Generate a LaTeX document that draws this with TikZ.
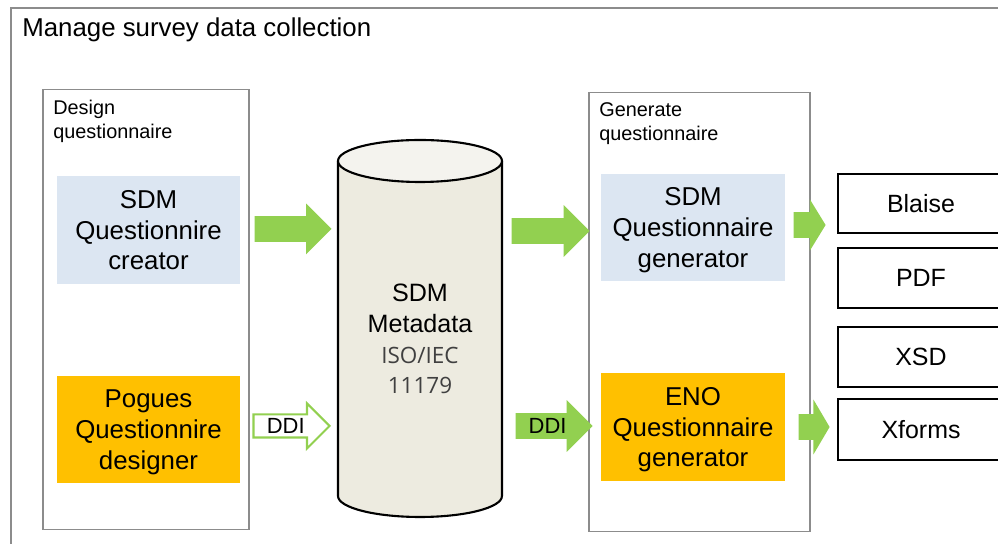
\documentclass[tikz,border=0pt]{standalone}
\usepackage{fontspec}
\setmainfont{Liberation Sans}
\newfontfamily\isofont{Open Sans}
\usepackage{tikz}
\usetikzlibrary{shapes.arrows}
\definecolor{sdmblue}{HTML}{DCE6F2}
\definecolor{enoorange}{HTML}{FFC000}
\definecolor{arrgreen}{HTML}{92D050}
\definecolor{cylfill}{HTML}{EDEBE0}
\definecolor{cyltop}{HTML}{F4F3EE}
\definecolor{framegray}{HTML}{8C8C8C}
\tikzset{
	FR/.style={draw=framegray,line width=0.6pt}
}
\tikzset{
	BX/.style={minimum width=#1,inner sep=0,align=center,text depth=0pt,font=\fontsize{14.7}{17.6}\selectfont}
}
\tikzset{
	OUT/.style={draw,line width=1.1pt,minimum width=3.32cm,minimum height=#1,inner sep=0,font=\fontsize{14.2}{17}\selectfont}
}
\tikzset{
	GA/.style={single arrow,anchor=tip,inner sep=0,fill=arrgreen,text height=0.41cm,text depth=0.09cm,font=\fontsize{12.5}{14}\selectfont}
}

\begin{document}
\begin{tikzpicture}[x=0.02cm,y=0.02cm]
		\useasboundingbox (0,0) rectangle (998,544);
		\clip (0,0) rectangle (998,544);
		\fill[white] (0,0) rectangle (998,544);
		%outer frame
		\draw[FR] (11,-5) -- (11,536) -- (1005,536);
		\node[anchor=base west,inner sep=0,font=\fontsize{14.7}{17}\selectfont] (title) at (22,507) {Manage survey data collection};
		%design
		\node[FR,minimum width=4.12cm,minimum height=8.82cm] (design) at (146,234.5) {};
		\node[anchor=north west,inner sep=0,align=left,font=\fontsize{11.3}{13.6}\selectfont] (designlbl) at (53,444) {Design\\questionnaire};
		\node[BX=3.66cm,minimum height=2.16cm,fill=sdmblue] (creator) at (148.5,314) {SDM\\Questionnire\\creator};
		\node[BX=3.66cm,minimum height=2.14cm,fill=enoorange] (pogues) at (148.5,114.5) {Pogues\\Questionnire\\designer};
		%metadata store
		\fill[cylfill] (338,383) -- (338,48) arc[start angle=180,end angle=360,x radius=1.64cm,y radius=0.42cm] -- (502,383) -- cycle;
		\draw[line width=1.2pt] (338,383) -- (338,48) arc[start angle=180,end angle=360,x radius=1.64cm,y radius=0.42cm] -- (502,383);
		\draw[line width=1.2pt,fill=cyltop] (420,383) ellipse[x radius=1.64cm,y radius=0.42cm];
		\node[anchor=north,inner sep=0,align=center,font=\fontsize{14.3}{17.4}\selectfont] (meta) at (420,260) {SDM\\Metadata\\{\isofont\fontsize{12.8}{17.4}\selectfont\color{black!75}ISO/IEC}\\{\isofont\fontsize{12.8}{17.4}\selectfont\color{black!75}11179}};
		%generate
		\node[FR,minimum width=4.42cm,minimum height=8.8cm] (generate) at (699.5,232) {};
		\node[anchor=north west,inner sep=0,align=left,font=\fontsize{11.3}{13.6}\selectfont] (generatelbl) at (599,442) {Generate\\questionnaire};
		\node[BX=3.68cm,minimum height=2.14cm,fill=sdmblue] (sdmgen) at (693,316.5) {SDM\\Questionnaire\\generator};
		\node[BX=3.68cm,minimum height=2.16cm,fill=enoorange] (enogen) at (693,117) {ENO\\Questionnaire\\generator};
		%outputs
		\node[OUT=1.18cm] (blaise) at (921,340.5) {Blaise};
		\node[OUT=1.2cm] (pdf) at (921,266) {PDF};
		\node[OUT=1.2cm] (xsd) at (921,187) {XSD};
		\node[OUT=1.22cm] (xforms) at (921,114.5) {Xforms};
		%arrows
		\node[GA,minimum height=1.54cm,single arrow head extend=0.25cm] (a1) at (332,315) {};
		\node[GA,fill=white,draw=arrgreen,line width=1.2pt,text height=0.37cm,text depth=0.05cm,minimum height=1.52cm,single arrow head extend=0.22cm] (ddi1) at (331,118) {DDI};
		\node[GA,minimum height=1.56cm,single arrow head extend=0.26cm] (a3) at (590,313) {};
		\node[GA,minimum height=1.54cm,single arrow head extend=0.26cm] (ddi2) at (593,118) {DDI};
		\node[GA,minimum height=0.64cm,single arrow head extend=0.26cm,single arrow tip angle=117] (a5) at (826,319) {};
		\node[GA,minimum height=0.62cm,single arrow head extend=0.29cm,single arrow tip angle=119] (a6) at (830,117) {};
	\end{tikzpicture}
\end{document}
